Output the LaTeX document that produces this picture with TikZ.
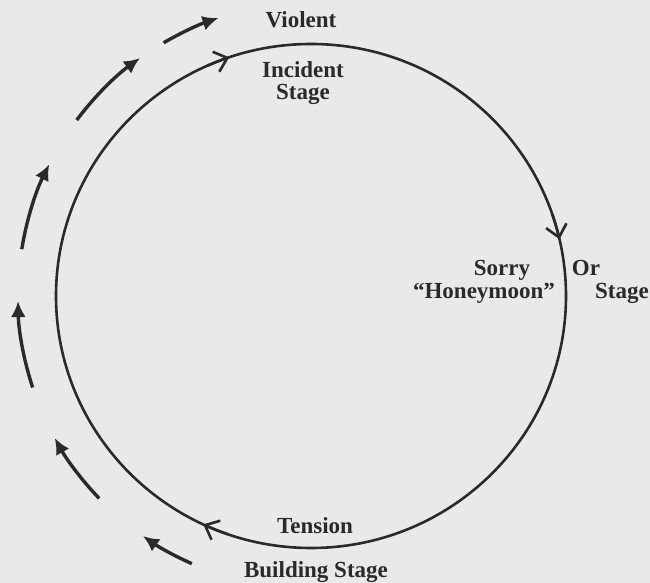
\documentclass[tikz,border=0pt]{standalone}
\usepackage{fontspec}
\setmainfont{Liberation Serif}
\usetikzlibrary{arrows.meta}
\definecolor{paper}{HTML}{E9E9E7}
\definecolor{ink}{HTML}{2A2A2A}
\begin{document}
\begin{tikzpicture}[x=1pt,y=1pt,
  lbl/.style={font=\bfseries\fontsize{23}{26}\selectfont, text=ink, inner sep=0pt, anchor=base},
  ring/.style={draw=ink, line width=2.6pt},
  cyc/.style={draw=ink, line width=2.6pt, -{Straight Barb[length=12pt,width=21pt,line width=2.6pt]}},
  outarr/.style={draw=ink, line width=3.4pt, -{Latex[length=16pt,width=15pt]}}
]
\fill[paper] (0,0) rectangle (650,583);
\useasboundingbox (0,0) rectangle (650,583);
\coordinate (c) at (311,287);
% main cycle
\draw[ring] (c) ellipse [x radius=255pt, y radius=252pt];
\draw[cyc] (c) ++(114:255pt and 252pt) arc[start angle=114, end angle=108.7, x radius=255pt, y radius=252pt];
\draw[cyc] (c) ++(19:255pt and 252pt) arc[start angle=19, end angle=13, x radius=255pt, y radius=252pt];
\draw[cyc] (c) ++(251:255pt and 252pt) arc[start angle=251, end angle=245, x radius=255pt, y radius=252pt];
% outer arrows
\draw[outarr] (c) ++(246:293pt) arc[start angle=246, end angle=235, radius=293pt];
\draw[outarr] (c) ++(223.7:293pt) arc[start angle=223.7, end angle=209, radius=293pt];
\draw[outarr] (c) ++(198.2:293pt) arc[start angle=198.2, end angle=181, radius=293pt];
\draw[outarr] (c) ++(170.8:293pt) arc[start angle=170.8, end angle=153.3, radius=293pt];
\draw[outarr] (c) ++(143.1:293pt) arc[start angle=143.1, end angle=125.7, radius=293pt];
\draw[outarr] (c) ++(120.2:293pt) arc[start angle=120.2, end angle=108.4, radius=293pt];
% labels
\node[lbl] (violent) at (301,555) {Violent};
\node[lbl] (incident) at (303,505) {Incident};
\node[lbl] (stagetop) at (303,483) {Stage};
\node[lbl] (sorry) at (502,307) {Sorry};
\node[lbl] (or) at (586,307) {Or};
\node[lbl] (honey) at (484,284) {“Honeymoon”};
\node[lbl] (stageright) at (622,284) {Stage};
\node[lbl] (tension) at (315,49) {Tension};
\node[lbl] (building) at (316,5.5) {Building Stage};
\end{tikzpicture}
\end{document}
